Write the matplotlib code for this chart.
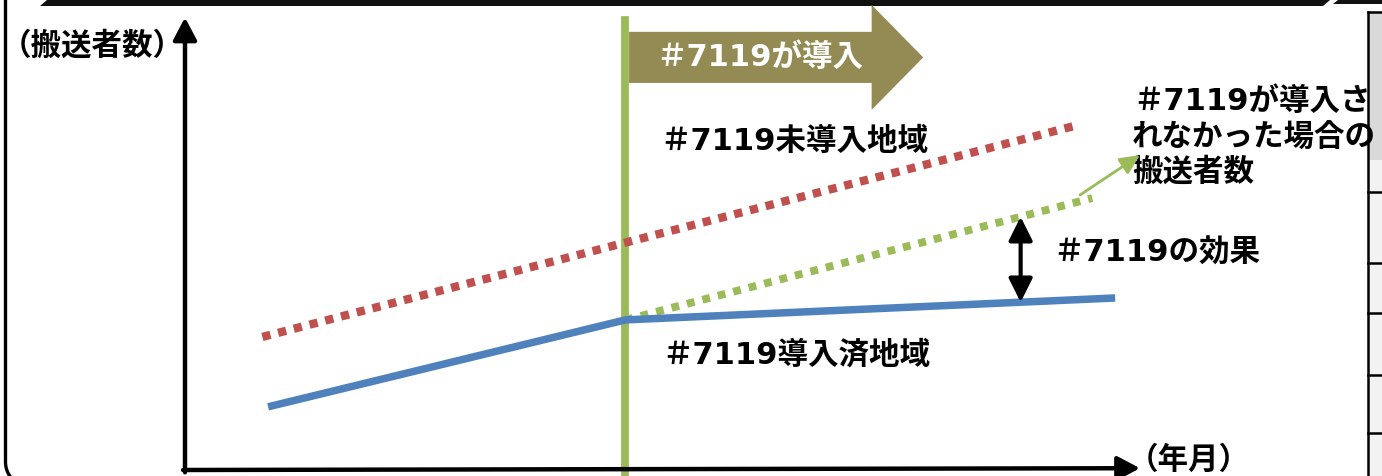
import matplotlib
matplotlib.use('Agg')
import matplotlib.pyplot as plt
from matplotlib.patches import FancyArrow, Rectangle, Polygon
import numpy as np

plt.rcParams['font.family'] = ['DejaVu Sans', 'Noto Sans CJK JP']

# conceptual series: x = time (year/month), y = number of people transported
blue_x = [8.7, 46.1, 97.4]      # regions with #7119
blue_y = [14.1, 33.5, 38.4]
red_x = [8.1, 93.5]             # regions without #7119
red_y = [29.7, 77.0]
green_x = [46.1, 95.0]          # estimate if #7119 had not been introduced
green_y = [33.5, 60.7]
intro_x = 46.1                  # time #7119 was introduced
effect_x = 87.5                 # where the effect is shown

BLUE = '#4F81BD'
RED = '#C0504D'
GREEN = '#9BBB59'
OLIVE = '#948A54'

W, H = 1382, 476
fig = plt.figure(figsize=(W / 100, H / 100), dpi=100)

# background layer in pixel units (frame, table edge, labels)
bg = fig.add_axes([0, 0, 1, 1])
bg.set_xlim(0, W)
bg.set_ylim(H, 0)
bg.axis('off')

# slide frame
t = np.linspace(0, np.pi / 2, 30)
fx = np.concatenate([[5.5], 30.5 - 25 * np.cos(t)])
fy = np.concatenate([[0], 462 + 25 * np.sin(t)])
bg.plot(fx, fy, color='k', lw=2.4, solid_capstyle='butt')
bg.add_patch(Polygon([(40, 6), (47, 0), (1330, 0), (1323, 6)], closed=True, fc='#111111', ec='none'))
bg.add_patch(Polygon([(1333, 4), (1338, 0), (1382, 0), (1382, 4)], closed=True, fc='#111111', ec='none'))

# table on the right edge
bg.add_patch(Rectangle((1368, 12), 20, 148, fc='#d9d9d9', ec='none'))
bg.add_patch(Rectangle((1368, 160), 20, 330, fc='#f2f2f2', ec='none'))
bg.plot([1368, 1368], [12, 476], color='k', lw=1.8)
bg.plot([1368, 1382], [12, 12], color='k', lw=1.8)
for yy in [192, 263, 313, 375, 433]:
    bg.plot([1368, 1382], [yy, yy], color='k', lw=1.8)

# chart axes
ax = fig.add_axes([185 / W, 6 / H, 955 / W, 448 / H])
ax.set_xlim(0, 100)
ax.set_ylim(0, 100)
ax.axis('off')

ax.annotate('', xy=(0, 1.01), xytext=(0, -0.005), xycoords='axes fraction',
            arrowprops=dict(arrowstyle='-|>,head_length=0.85,head_width=0.45', lw=3.2,
                            color='k', shrinkA=0, shrinkB=0, mutation_scale=16))
ax.annotate('', xy=(1.0, 0.004), xytext=(-0.002, 0.0), xycoords='axes fraction',
            arrowprops=dict(arrowstyle='-|>,head_length=0.85,head_width=0.45', lw=3.2,
                            color='k', shrinkA=0, shrinkB=0, mutation_scale=16))

# introduction arrow and line
ax.add_patch(FancyArrow(intro_x + 0.4, 92.1, 77.3 - intro_x - 0.4, 0, width=11.4,
                        head_width=23.4, head_length=5.4, length_includes_head=True,
                        fc=OLIVE, ec='none', clip_on=False))
ax.axvline(intro_x, ymin=-0.02, ymax=1.004, color=GREEN, lw=5.6, clip_on=False)

ax.plot(red_x, red_y, color=RED, lw=6.0, linestyle=(0, (1, 0.95)), dash_capstyle='butt')
ax.plot(green_x, green_y, color=GREEN, lw=5.6, linestyle=(0, (1, 1.05)), dash_capstyle='butt')
ax.plot(blue_x, blue_y, color=BLUE, lw=5.4, solid_capstyle='butt')

# effect of #7119
top = np.interp(effect_x, green_x, green_y)
bot = np.interp(effect_x, blue_x, blue_y)
ax.annotate('', xy=(effect_x, top), xytext=(effect_x, bot),
            arrowprops=dict(arrowstyle='<|-|>,head_length=0.9,head_width=0.45', lw=3,
                            color='k', shrinkA=0, shrinkB=0, mutation_scale=16))

# labels
txt = dict(fontsize=22, fontweight='bold', va='center')
bg.text(1, 46, '（搬送者数）', ha='left', **txt)
bg.text(1189, 460, '（年月）', ha='center', **txt)
ax.text(656, 57, '＃7119が導入', color='white', transform=bg.transData, zorder=5, **txt)
bg.text(660, 141, '＃7119未導入地域', **txt)
bg.text(662, 355, '＃7119導入済地域', **txt)
bg.text(1053, 253, '＃7119の効果', **txt)
bg.text(1133, 101, '＃7119が導入さ', **txt)
bg.text(1132, 138, 'れなかった場合の', **txt)
bg.text(1132, 172, '搬送者数', **txt)
bg.annotate('', xy=(1140, 155), xytext=(1080, 195),
            arrowprops=dict(arrowstyle='-|>,head_length=0.75,head_width=0.35', lw=2,
                            color=GREEN, shrinkA=0, shrinkB=0, mutation_scale=16))

fig.savefig('out.png', dpi=100)
